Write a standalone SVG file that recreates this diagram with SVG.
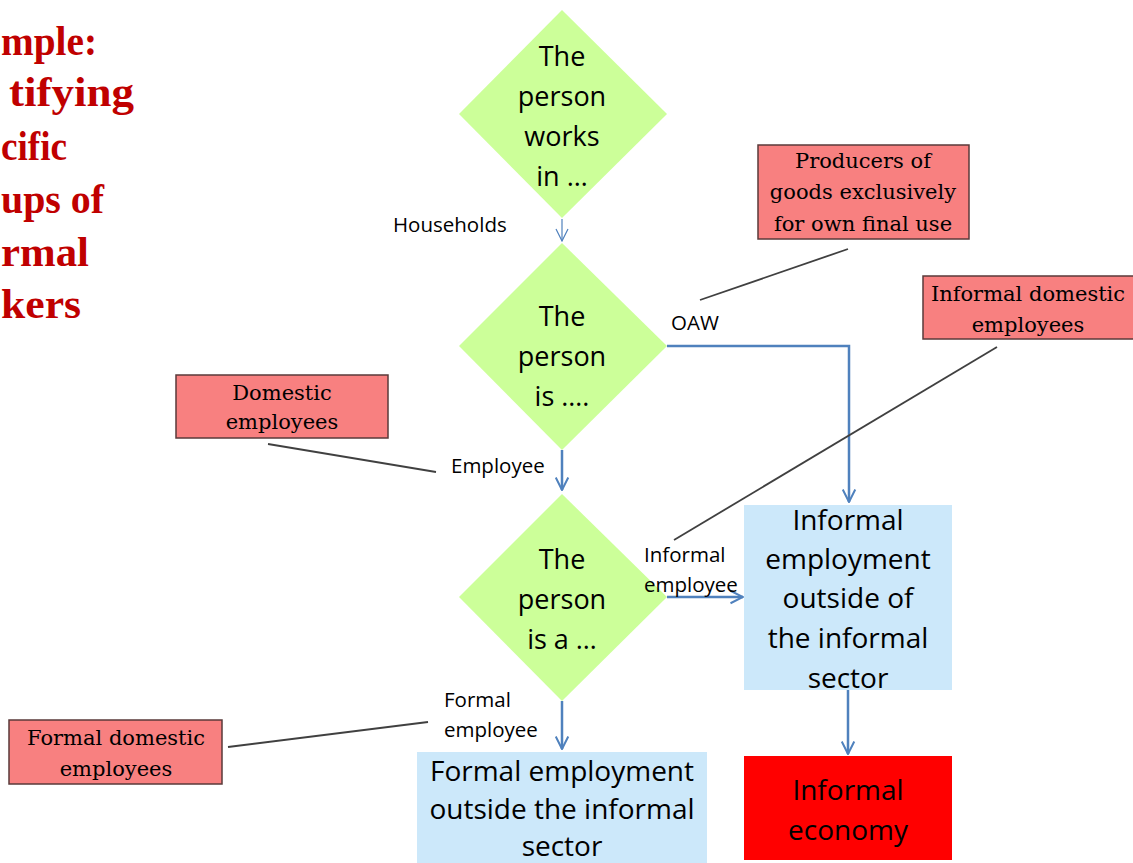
<svg xmlns="http://www.w3.org/2000/svg" width="1133" height="863" viewBox="0 0 1133 863">
<defs>
<style>
.title{font-family:"Liberation Serif",serif;font-weight:bold;font-size:42px;fill:#C00000}
.dia{fill:#CCFF99;stroke:none}
.dt{font-family:"Open Sans","Noto Sans",sans-serif;font-size:27px;fill:#000;text-anchor:middle}
.blue{fill:#CCE8FA;stroke:none}
.red{fill:#FF0000;stroke:none}
.bt{font-family:"Open Sans","Noto Sans",sans-serif;font-size:28px;fill:#000;text-anchor:middle}
.pink{fill:#F88080;stroke:#5A3A3A;stroke-width:1.5}
.pt{font-family:"DejaVu Serif","Liberation Serif",serif;font-size:21px;fill:#000;text-anchor:middle}
.lbl{font-family:"Open Sans","Noto Sans",sans-serif;font-size:20.5px;fill:#000}
.conn{fill:none;stroke:#4F81BD;stroke-width:2.5}
.thin{fill:none;stroke:#4F81BD;stroke-width:1.2}
.lead{fill:none;stroke:#404040;stroke-width:1.8}
</style>
<marker id="ah" viewBox="0 0 12 12" refX="11" refY="6" markerWidth="6" markerHeight="6" markerUnits="strokeWidth" orient="auto">
<path d="M1,1 L11,6 L1,11" fill="none" stroke="#4F81BD" stroke-width="1.6"/>
</marker>
<marker id="ahThin" viewBox="0 0 12 12" refX="11" refY="6" markerWidth="12" markerHeight="12" markerUnits="strokeWidth" orient="auto">
<path d="M1,1 L11,6 L1,11" fill="none" stroke="#4F81BD" stroke-width="1"/>
</marker>
</defs>
<rect width="1133" height="863" fill="#FFFFFF"/>

<g id="title">
<text class="title" x="1" y="55" textLength="96" lengthAdjust="spacingAndGlyphs">mple:</text>
<text class="title" x="9" y="106" textLength="125" lengthAdjust="spacingAndGlyphs">tifying</text>
<text class="title" x="1" y="160" textLength="66" lengthAdjust="spacingAndGlyphs">cific</text>
<text class="title" x="1" y="213" textLength="103" lengthAdjust="spacingAndGlyphs">ups of</text>
<text class="title" x="1" y="266" textLength="88" lengthAdjust="spacingAndGlyphs">rmal</text>
<text class="title" x="1" y="318" textLength="80" lengthAdjust="spacingAndGlyphs">kers</text>
</g>

<g id="connectors">
<line class="thin" x1="562" y1="219" x2="562" y2="241" marker-end="url(#ahThin)"/>
<polyline class="conn" points="667,346 849,346 849,502" marker-end="url(#ah)"/>
<line class="conn" x1="562" y1="450" x2="562" y2="490" marker-end="url(#ah)"/>
<line class="conn" x1="667" y1="597" x2="743" y2="597" marker-end="url(#ah)"/>
<line class="conn" x1="562" y1="701" x2="562" y2="749" marker-end="url(#ah)"/>
<line class="conn" x1="848" y1="690" x2="848" y2="754" marker-end="url(#ah)"/>
<line class="lead" x1="848" y1="249" x2="700" y2="300"/>
<line class="lead" x1="997" y1="347" x2="674" y2="540"/>
<line class="lead" x1="268" y1="444" x2="436" y2="472"/>
<line class="lead" x1="228" y1="747" x2="428" y2="722"/>
</g>

<g id="d1">
<polygon class="dia" points="562,10 667,114 562,218 459,114"/>
<text class="dt" x="562" y="66">The</text>
<text class="dt" x="562" y="106">person</text>
<text class="dt" x="562" y="146">works</text>
<text class="dt" x="562" y="186">in …</text>
</g>
<g id="d2">
<polygon class="dia" points="562,243 667,346 562,450 459,346"/>
<text class="dt" x="562" y="326">The</text>
<text class="dt" x="562" y="366">person</text>
<text class="dt" x="562" y="406">is ….</text>
</g>
<g id="d3">
<polygon class="dia" points="562,494 667,597 562,701 459,597"/>
<text class="dt" x="562" y="569">The</text>
<text class="dt" x="562" y="609">person</text>
<text class="dt" x="562" y="649">is a …</text>
</g>

<g id="labels">
<text class="lbl" x="393" y="232">Households</text>
<text class="lbl" x="671" y="330">OAW</text>
<text class="lbl" x="451" y="473">Employee</text>
<text class="lbl" x="644" y="562">Informal</text>
<text class="lbl" x="644" y="592">employee</text>
<text class="lbl" x="444" y="707">Formal</text>
<text class="lbl" x="444" y="737">employee</text>
</g>

<g id="informal-employment">
<rect class="blue" x="744" y="505" width="208" height="185"/>
<text class="bt" x="848" y="530">Informal</text>
<text class="bt" x="848" y="569">employment</text>
<text class="bt" x="848" y="608">outside of</text>
<text class="bt" x="848" y="648">the informal</text>
<text class="bt" x="848" y="688">sector</text>
</g>
<g id="formal-employment">
<rect class="blue" x="417" y="752" width="290" height="111"/>
<text class="bt" x="562" y="781">Formal employment</text>
<text class="bt" x="562" y="819">outside the informal</text>
<text class="bt" x="562" y="856">sector</text>
</g>
<g id="informal-economy">
<rect class="red" x="744" y="756" width="208" height="104"/>
<text class="bt" x="848" y="800">Informal</text>
<text class="bt" x="848" y="840">economy</text>
</g>

<g id="producers">
<rect class="pink" x="758" y="145" width="211" height="94"/>
<text class="pt" x="863" y="168">Producers of</text>
<text class="pt" x="863" y="199">goods exclusively</text>
<text class="pt" x="863" y="231">for own final use</text>
</g>
<g id="informal-domestic">
<rect class="pink" x="923" y="276" width="214" height="63"/>
<text class="pt" x="1028" y="301">Informal domestic</text>
<text class="pt" x="1028" y="332">employees</text>
</g>
<g id="domestic">
<rect class="pink" x="176" y="375" width="212" height="63"/>
<text class="pt" x="282" y="400">Domestic</text>
<text class="pt" x="282" y="429">employees</text>
</g>
<g id="formal-domestic">
<rect class="pink" x="9" y="720" width="213" height="64"/>
<text class="pt" x="116" y="745">Formal domestic</text>
<text class="pt" x="116" y="776">employees</text>
</g>
</svg>
